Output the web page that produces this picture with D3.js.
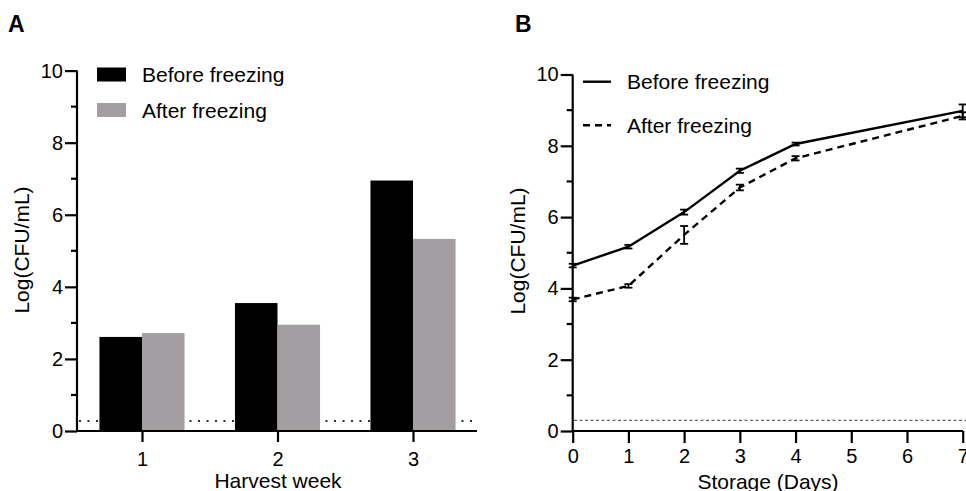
<!DOCTYPE html>
<html><head><meta charset="utf-8">
<script src="https://cdn.jsdelivr.net/npm/d3@7"></script>
<style>body{margin:0;background:#fff}svg{display:block}text{font-family:"Liberation Sans",Arial,sans-serif;fill:#000}</style>
</head><body>
<script>
// ---- Data ----
const weeks = ["1", "2", "3"];
const barBefore = [2.61, 3.55, 6.95];
const barAfter = [2.72, 2.95, 5.33];
const detectionLimitA = 0.28;

const days = [0, 1, 2, 3, 4, 7];
const lineBefore = [4.64, 5.17, 6.14, 7.30, 8.05, 8.98];
const errBefore = [0.05, 0.05, 0.07, 0.06, 0.04, 0.18];
const lineAfter = [3.69, 4.07, 5.50, 6.83, 7.65, 8.84];
const errAfter = [0.05, 0.05, 0.25, 0.08, 0.06, 0.10];
const detectionLimitB = 0.3;

const yTicks = [0, 2, 4, 6, 8, 10];
const dayTicks = [0, 1, 2, 3, 4, 5, 6, 7];
const seriesNames = ["Before freezing", "After freezing"];

const W = 966, H = 491;
const svg = d3.select("body").append("svg").attr("width", W).attr("height", H);

function styleAxis(g) {
  g.selectAll("path").attr("stroke", "#000").attr("stroke-width", 2.2);
  g.selectAll("line").attr("stroke", "#000").attr("stroke-width", 2.2);
  g.selectAll("text").style("font-size", "20px").style("font-family", '"Liberation Sans",Arial,sans-serif');
}

// ---------- Panel A ----------
const yA = d3.scaleLinear().domain([0, 10]).range([431, 70.6]);
const xA = d3.scalePoint().domain(weeks).range([142, 413]);
const bw = xA.step() * 0.314;
const gA = svg.append("g");

// detection limit (behind bars)
gA.append("line").attr("x1", 79).attr("x2", 477).attr("y1", yA(detectionLimitA)).attr("y2", yA(detectionLimitA))
  .attr("stroke", "#333").attr("stroke-width", 2).attr("stroke-dasharray", "2,6.5");

gA.selectAll("rect.b").data(weeks).join("rect").attr("class", "b")
  .attr("x", d => xA(d) - bw).attr("width", bw)
  .attr("y", (d, i) => yA(barBefore[i])).attr("height", (d, i) => yA(0) - yA(barBefore[i]))
  .attr("fill", "#000");
gA.selectAll("rect.a").data(weeks).join("rect").attr("class", "a")
  .attr("x", d => xA(d)).attr("width", bw)
  .attr("y", (d, i) => yA(barAfter[i])).attr("height", (d, i) => yA(0) - yA(barAfter[i]))
  .attr("fill", "#a29ea2");

// y axis A
const yAxA = gA.append("g").attr("transform", "translate(77,0)")
  .call(d3.axisLeft(yA).tickValues(yTicks).tickSize(12).tickPadding(2).tickFormat(d3.format("d")));
styleAxis(yAxA);
yAxA.select(".domain").attr("d", `M0,${yA(10)}V${yA(0)}`);
gA.selectAll("line.minA").data([1, 3, 5, 7, 9]).join("line").attr("class", "minA")
  .attr("x1", 71).attr("x2", 77).attr("y1", d => yA(d)).attr("y2", d => yA(d))
  .attr("stroke", "#000").attr("stroke-width", 2.2);

// x axis A
const xAxA = gA.append("g").attr("transform", `translate(0,${yA(0)})`)
  .call(d3.axisBottom(xA).tickSize(11).tickPadding(10));
styleAxis(xAxA);
xAxA.select(".domain").attr("d", "M77,0H477");

gA.append("text").attr("transform", "translate(29,250) rotate(-90)").attr("text-anchor", "middle")
  .style("font-size", "21px").text("Log(CFU/mL)");
gA.append("text").attr("x", 278).attr("y", 488).attr("text-anchor", "middle")
  .style("font-size", "21px").text("Harvest week");
gA.append("text").attr("x", 8).attr("y", 32).style("font-size", "23px").style("font-weight", "bold").text("A");

// legend A
const legColorsA = ["#000", "#a29ea2"];
seriesNames.forEach((s, i) => {
  gA.append("rect").attr("x", 97).attr("y", 67.5 + i * 35.5).attr("width", 29).attr("height", 14).attr("fill", legColorsA[i]);
  gA.append("text").attr("x", 142).attr("y", 82 + i * 35.5).style("font-size", "21px").text(s);
});

// ---------- Panel B ----------
const yB = d3.scaleLinear().domain([0, 10]).range([431, 74.5]);
const xB = d3.scaleLinear().domain([0, 7]).range([572.7, 962.7]);
const gB = svg.append("g");

gB.append("line").attr("x1", 574).attr("x2", 966).attr("y1", yB(detectionLimitB)).attr("y2", yB(detectionLimitB))
  .attr("stroke", "#666").attr("stroke-width", 1.2).attr("stroke-dasharray", "3,2.5");

const line = d3.line().x((d, i) => xB(days[i])).y(d => yB(d));
gB.append("path").attr("d", line(lineBefore)).attr("fill", "none").attr("stroke", "#000").attr("stroke-width", 2.4);
gB.append("path").attr("d", line(lineAfter)).attr("fill", "none").attr("stroke", "#000").attr("stroke-width", 2.4)
  .attr("stroke-dasharray", "7,5");

function errBars(vals, errs) {
  vals.forEach((v, i) => {
    const x = xB(days[i]), y1 = yB(v - errs[i]), y2 = yB(v + errs[i]);
    gB.append("line").attr("x1", x).attr("x2", x).attr("y1", y1).attr("y2", y2).attr("stroke", "#000").attr("stroke-width", 1.8);
    [y1, y2].forEach(y => gB.append("line").attr("x1", x - 4).attr("x2", x + 4).attr("y1", y).attr("y2", y)
      .attr("stroke", "#000").attr("stroke-width", 1.8));
  });
}
errBars(lineBefore, errBefore);
errBars(lineAfter, errAfter);

const yAxB = gB.append("g").attr("transform", "translate(572.7,0)")
  .call(d3.axisLeft(yB).tickValues(yTicks).tickSize(12).tickPadding(2).tickFormat(d3.format("d")));
styleAxis(yAxB);
yAxB.select(".domain").attr("d", `M0,${yB(10)}V${yB(0)}`);
gB.selectAll("line.minB").data([1, 3, 5, 7, 9]).join("line").attr("class", "minB")
  .attr("x1", 566.7).attr("x2", 572.7).attr("y1", d => yB(d)).attr("y2", d => yB(d))
  .attr("stroke", "#000").attr("stroke-width", 2.2);

const xAxB = gB.append("g").attr("transform", `translate(0,${yB(0)})`)
  .call(d3.axisBottom(xB).tickValues(dayTicks).tickSize(12).tickPadding(6).tickFormat(d3.format("d")));
styleAxis(xAxB);
xAxB.select(".domain").attr("d", "M572.7,0H963");

gB.append("text").attr("transform", "translate(525,251) rotate(-90)").attr("text-anchor", "middle")
  .style("font-size", "21px").text("Log(CFU/mL)");
gB.append("text").attr("x", 768).attr("y", 489).attr("text-anchor", "middle")
  .style("font-size", "21px").text("Storage (Days)");
gB.append("text").attr("x", 515).attr("y", 32).style("font-size", "23px").style("font-weight", "bold").text("B");

seriesNames.forEach((s, i) => {
  gB.append("line").attr("x1", 583).attr("x2", 611).attr("y1", 81.7 + i * 43.5).attr("y2", 81.7 + i * 43.5)
    .attr("stroke", "#000").attr("stroke-width", 2.4).attr("stroke-dasharray", i ? "7,5" : null);
  gB.append("text").attr("x", 627).attr("y", 89 + i * 43.5).style("font-size", "21px").text(s);
});
</script>
</body></html>
